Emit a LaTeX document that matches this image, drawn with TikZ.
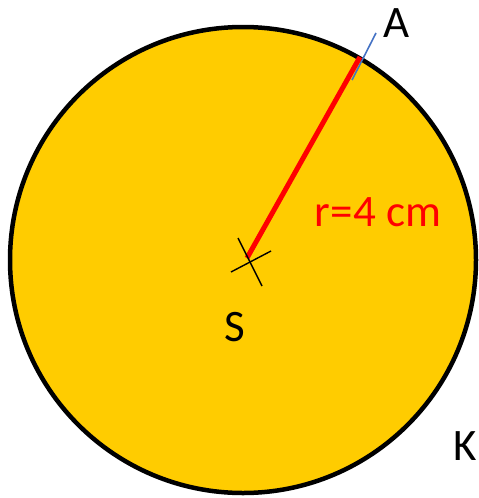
\documentclass[tikz,border=0pt]{standalone}
\usepackage{fontspec}
\setmainfont{Carlito}
\begin{document}
\begin{tikzpicture}[x=1pt,y=-1pt,
  lbl/.style={inner sep=0pt,anchor=base,font=\fontsize{45}{50}\selectfont},
  rlbl/.style={inner sep=0pt,anchor=base,text=red,font=\fontsize{45}{50}\selectfont}]
\useasboundingbox (0,0) rectangle (479,498);
\definecolor{gold}{RGB}{255,204,0}
\definecolor{tickblue}{RGB}{68,114,196}
\node[circle,draw=black,line width=4.5pt,fill=gold,minimum size=466pt,inner sep=0pt] (K) at (243,260) {};
\coordinate (S) at (249,261);
\coordinate (A) at (360,57);
\coordinate (B1) at (352,80);
\coordinate (B2) at (376,33);
\draw[tickblue,line width=1.6pt] (B1) -- (B2);
\draw[red,line width=5pt] (247,258) -- (A);
\coordinate (c1a) at (238,238); \coordinate (c1b) at (262,286);
\coordinate (c2a) at (231,272); \coordinate (c2b) at (271,251);
\draw[black,line width=1.4pt] (c1a) -- (c1b);
\draw[black,line width=1.4pt] (c2a) -- (c2b);
\node[lbl] (la) at (397,37) {A};
\node[lbl] (ls) at (235,341) {S};
\node[lbl] (lk) at (465,460) {K};
\node[rlbl] (lr) at (378,226) {r=4 cm};
\end{tikzpicture}
\end{document}
